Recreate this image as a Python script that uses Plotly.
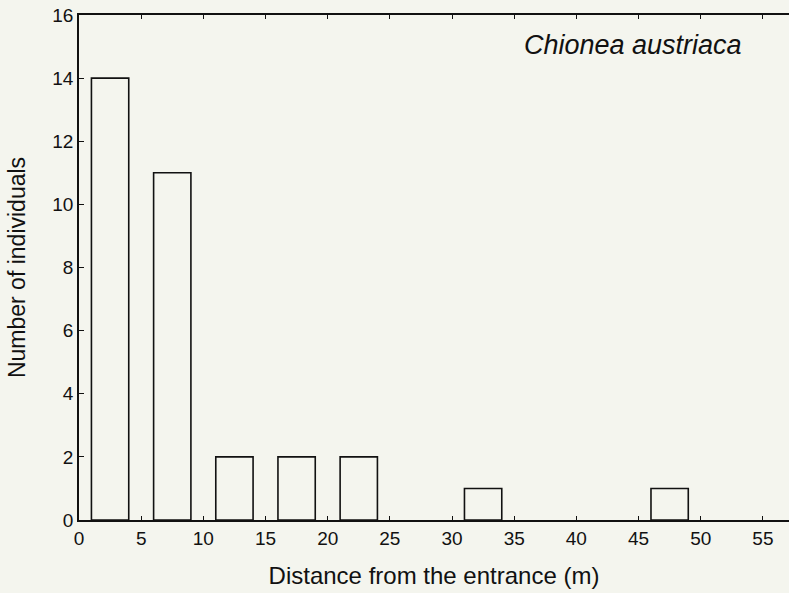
import plotly.graph_objects as go

bin_centers = [2.5, 7.5, 12.5, 17.5, 22.5, 32.5, 47.5]
counts = [14, 11, 2, 2, 2, 1, 1]
bar_width = 3
x_ticks = [0, 5, 10, 15, 20, 25, 30, 35, 40, 45, 50, 55]
y_ticks = [0, 2, 4, 6, 8, 10, 12, 14, 16]

bg = "#f4f5ee"
fig = go.Figure()
fig.add_trace(go.Bar(
    x=bin_centers, y=counts, width=bar_width,
    marker=dict(color=bg, line=dict(color="#111111", width=1.6)),
))

fig.update_layout(
    width=789, height=593,
    paper_bgcolor=bg, plot_bgcolor=bg,
    margin=dict(l=79, r=0, t=15, b=73),
    showlegend=False,
    font=dict(family="Liberation Sans, Arial, sans-serif", color="#111111", size=19),
    annotations=[dict(
        text="<i>Chionea austriaca</i>", x=0.78, y=0.94, xref="paper", yref="paper",
        xanchor="center", yanchor="middle", showarrow=False,
        font=dict(size=27, family="Liberation Sans, Arial, sans-serif", color="#111111"),
    )],
)
fig.update_xaxes(
    range=[0, 57.1], tickvals=x_ticks, ticks="inside", ticklen=4, tickcolor="#111111",
    showline=True, linecolor="#111111", linewidth=1.5, mirror="ticks",
    showgrid=False, zeroline=False,
    title=dict(text="Distance from the entrance (m)", font=dict(size=24), standoff=20),
)
fig.update_yaxes(
    range=[0, 16], tickvals=y_ticks, ticks="inside", ticklen=5, tickcolor="#111111",
    showline=True, linecolor="#111111", linewidth=1.5, mirror=False,
    showgrid=False, zeroline=False,
    title=dict(text="Number of individuals", font=dict(size=23), standoff=20),
)

fig.write_html("out.html", config={"displayModeBar": False},
               post_script="document.body.style.margin='0';")
